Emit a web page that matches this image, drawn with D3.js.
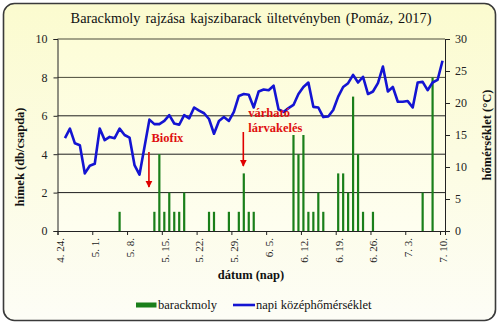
<!DOCTYPE html>
<html>
<head>
<meta charset="utf-8">
<script src="https://cdn.jsdelivr.net/npm/d3@7"></script>
<style>
  html, body { margin: 0; padding: 0; background: #ffffff; }
  svg { display: block; }
  text { font-family: "Liberation Serif", "Times New Roman", serif; }
</style>
</head>
<body>
<svg id="chart" width="500" height="325"></svg>
<script>
// Pheromone trap catches (males per trap) by date
const mothDates = [
  "2017-05-06", "2017-05-13", "2017-05-14", "2017-05-15", "2017-05-16", "2017-05-17",
  "2017-05-18", "2017-05-19", "2017-05-24", "2017-05-25", "2017-05-28", "2017-05-30",
  "2017-05-31", "2017-06-01", "2017-06-02", "2017-06-10", "2017-06-11", "2017-06-12",
  "2017-06-13", "2017-06-14", "2017-06-15", "2017-06-16", "2017-06-19", "2017-06-20",
  "2017-06-21", "2017-06-22", "2017-06-23", "2017-06-24", "2017-06-26", "2017-07-06",
  "2017-07-08"
];
const mothCounts = [
  1, 1, 4, 1, 2, 1,
  1, 2, 1, 1, 1, 1,
  3, 1, 1, 5, 4, 5,
  1, 1, 2, 1, 3, 3,
  2, 7, 4, 1, 1, 2,
  8
];

// Daily mean temperature (°C), one value per day from 25 April to 10 July
const tempStart = "2017-04-25";
const tempValues = [
  14.5, 16.0, 13.7, 13.4, 9.0, 10.2, 10.5, 16.0, 14.2, 14.7,
  14.5, 16.0, 15.0, 14.6, 10.3, 8.8, 13.1, 17.4, 16.7, 16.7,
  17.2, 18.1, 16.8, 16.6, 18.1, 17.6, 19.3, 18.8, 18.4, 17.5,
  15.2, 17.2, 17.8, 17.2, 18.6, 21.1, 21.4, 21.3, 19.3, 21.8,
  22.1, 22.0, 22.7, 19.0, 18.6, 19.2, 19.7, 21.4, 22.5, 23.2,
  19.4, 19.3, 17.8, 17.9, 18.9, 21.0, 22.5, 23.1, 24.4, 23.2,
  24.1, 21.4, 21.8, 23.1, 25.7, 21.8, 22.5, 20.2, 20.2, 20.3,
  19.3, 23.2, 23.3, 22.0, 23.2, 23.6, 26.6
];

// Axis ticks
const dateTicks = [
  "2017-04-24", "2017-05-01", "2017-05-08", "2017-05-15", "2017-05-22", "2017-05-29",
  "2017-06-05", "2017-06-12", "2017-06-19", "2017-06-26", "2017-07-03", "2017-07-10"
];
const dateTickLabels = [
  "4. 24.", "5. 1.", "5. 8.", "5. 15.", "5. 22.", "5. 29.",
  "6. 5.", "6. 12.", "6. 19.", "6. 26.", "7. 3.", "7. 10."
];
const countTicks = [0, 2, 4, 6, 8, 10];
const tempTicks = [0, 5, 10, 15, 20, 25, 30];

// Annotated events
const eventLabels = [["Biofix"], ["várható", "lárvakelés"]];
const eventDates = ["2017-05-12", "2017-05-31"];

const parse = d3.utcParse("%Y-%m-%d");
const DAY = 864e5;
const halfDay = d => new Date(d.getTime() + DAY / 2);

const svg = d3.select("#chart");
const defs = svg.append("defs");

const outerGrad = defs.append("linearGradient")
  .attr("id", "outerGrad").attr("x1", 0).attr("y1", 0).attr("x2", 0).attr("y2", 1);
outerGrad.append("stop").attr("offset", "0%").attr("stop-color", "#fbfbcf");
outerGrad.append("stop").attr("offset", "100%").attr("stop-color", "#fdfdf6");

const plotGrad = defs.append("linearGradient")
  .attr("id", "plotGrad").attr("x1", 0).attr("y1", 0).attr("x2", 0).attr("y2", 1);
plotGrad.append("stop").attr("offset", "0%").attr("stop-color", "#fdfdd8");
plotGrad.append("stop").attr("offset", "100%").attr("stop-color", "#fefef0");

defs.append("marker")
  .attr("id", "arrowRed")
  .attr("viewBox", "0 0 10 10")
  .attr("refX", 9).attr("refY", 5)
  .attr("markerWidth", 4.5).attr("markerHeight", 4.5)
  .attr("markerUnits", "strokeWidth")
  .attr("orient", "auto")
  .append("path")
  .attr("d", "M0,0 L10,5 L0,10 z")
  .attr("fill", "#e00000");

// Outer frame
svg.append("rect")
  .attr("x", 3.5).attr("y", 3.5)
  .attr("width", 492).attr("height", 317)
  .attr("rx", 11).attr("ry", 11)
  .attr("fill", "url(#outerGrad)")
  .attr("stroke", "#3a3a3a")
  .attr("stroke-width", 1.6);

const plot = { left: 57.5, right: 445, top: 39, bottom: 231 };

const x = d3.scaleUtc()
  .domain([parse("2017-04-24"), parse("2017-07-11")])
  .range([plot.left, plot.right]);
const yCount = d3.scaleLinear().domain([0, 10]).range([plot.bottom, plot.top]);
const yTemp = d3.scaleLinear().domain([0, 30]).range([plot.bottom, plot.top]);

// Plot area
svg.append("rect")
  .attr("x", plot.left).attr("y", plot.top)
  .attr("width", plot.right - plot.left).attr("height", plot.bottom - plot.top)
  .attr("fill", "url(#plotGrad)");

// Horizontal gridlines
svg.append("g")
  .selectAll("line")
  .data(countTicks.filter(d => d > 0))
  .join("line")
  .attr("x1", plot.left).attr("x2", plot.right)
  .attr("y1", d => yCount(d)).attr("y2", d => yCount(d))
  .attr("stroke", d => d >= 8 ? "#4a4a3a" : "#1e1e1e")
  .attr("stroke-width", 1);

// Title
svg.append("text")
  .attr("x", 251).attr("y", 23)
  .attr("text-anchor", "middle")
  .attr("font-size", 14.3)
  .attr("word-spacing", 1.5)
  .attr("fill", "#111")
  .text("Barackmoly rajzása kajszibarack ültetvényben (Pomáz, 2017)");

// Left axis
const leftAxis = d3.axisLeft(yCount).tickValues(countTicks).tickSize(4).tickPadding(6);
const gl = svg.append("g").attr("transform", `translate(${plot.left},0)`).call(leftAxis);
gl.select(".domain").attr("stroke", "#222");
gl.selectAll(".tick line").attr("stroke", "#222");
gl.selectAll(".tick text").attr("font-size", 12)
  .attr("font-family", "Liberation Serif, serif").attr("fill", "#222");

// Right axis
const rightAxis = d3.axisRight(yTemp).tickValues(tempTicks).tickSize(5).tickPadding(5);
const gr = svg.append("g").attr("transform", `translate(${plot.right},0)`).call(rightAxis);
gr.select(".domain").attr("stroke", "#222");
gr.selectAll(".tick line").attr("stroke", "#222");
gr.selectAll(".tick text").attr("font-size", 12)
  .attr("font-family", "Liberation Serif, serif").attr("fill", "#222");

// Bars: trap catches
const barW = 2.2;
svg.append("g")
  .selectAll("rect")
  .data(mothDates.map((d, i) => ({ date: parse(d), value: mothCounts[i] })))
  .join("rect")
  .attr("x", d => x(halfDay(d.date)) - barW / 2)
  .attr("y", d => yCount(d.value))
  .attr("width", barW)
  .attr("height", d => yCount(0) - yCount(d.value))
  .attr("fill", "#1a7f1a");

// Bottom axis
const tickDates = dateTicks.map(parse);
const bottomAxis = d3.axisBottom(x).tickValues(tickDates).tickSize(4).tickFormat("");
const gb = svg.append("g").attr("transform", `translate(0,${plot.bottom})`).call(bottomAxis);
gb.select(".domain").attr("stroke", "#222");
gb.selectAll(".tick line").attr("stroke", "#222");

svg.append("g")
  .selectAll("text")
  .data(tickDates)
  .join("text")
  .attr("transform", d => `translate(${x(d) + 3},238) rotate(-90)`)
  .attr("text-anchor", "end")
  .attr("dy", "0.35em")
  .attr("font-size", 11)
  .attr("fill", "#222")
  .text((d, i) => dateTickLabels[i]);

// Temperature line
const tempStartDate = parse(tempStart);
const tempSeries = tempValues.map((v, i) => ({
  date: new Date(tempStartDate.getTime() + i * DAY),
  value: v
}));
svg.append("path")
  .datum(tempSeries)
  .attr("fill", "none")
  .attr("stroke", "#1414d2")
  .attr("stroke-width", 2.6)
  .attr("stroke-linejoin", "round")
  .attr("d", d3.line().x(d => x(halfDay(d.date))).y(d => yTemp(d.value)));

// Event arrows and labels
const arrows = [
  { date: parse(eventDates[0]), y1: 152, y2: 187, tx: 2.5, ty: 142, lines: eventLabels[0] },
  { date: parse(eventDates[1]), y1: 132, y2: 166, tx: 5, ty: 117, lines: eventLabels[1] }
];
const ev = svg.append("g");
arrows.forEach(a => {
  const ax = x(a.date) + 2;
  ev.append("line")
    .attr("x1", ax).attr("x2", ax)
    .attr("y1", a.y1).attr("y2", a.y2)
    .attr("stroke", "#e00000")
    .attr("stroke-width", 1.6)
    .attr("marker-end", "url(#arrowRed)");
  const t = ev.append("text")
    .attr("x", ax + a.tx).attr("y", a.ty)
    .attr("font-size", 12.5)
    .attr("font-weight", "bold")
    .attr("fill", "#e01010");
  a.lines.forEach((s, i) => {
    t.append("tspan").attr("x", ax + a.tx).attr("dy", i === 0 ? 0 : 15).text(s);
  });
});

// Axis titles
svg.append("text")
  .attr("transform", "translate(24,157) rotate(-90)")
  .attr("text-anchor", "middle")
  .attr("font-size", 12.5).attr("font-weight", "bold").attr("fill", "#111")
  .text("hímek (db/csapda)");

svg.append("text")
  .attr("transform", "translate(491,135) rotate(-90)")
  .attr("text-anchor", "middle")
  .attr("font-size", 12.5).attr("font-weight", "bold").attr("fill", "#111")
  .text("hőmérséklet (°C)");

svg.append("text")
  .attr("x", 251).attr("y", 279)
  .attr("text-anchor", "middle")
  .attr("font-size", 12.5).attr("font-weight", "bold").attr("fill", "#111")
  .text("dátum (nap)");

// Legend
const lg = svg.append("g");
lg.append("rect").attr("x", 136).attr("y", 302.5).attr("width", 20.5).attr("height", 5).attr("fill", "#1a7f1a");
lg.append("text").attr("x", 158).attr("y", 309).attr("font-size", 12.5).attr("fill", "#111").text("barackmoly");
lg.append("line").attr("x1", 233).attr("x2", 255).attr("y1", 305).attr("y2", 305)
  .attr("stroke", "#1414d2").attr("stroke-width", 2.6);
lg.append("text").attr("x", 256).attr("y", 309).attr("font-size", 12.5).attr("fill", "#111").text("napi középhőmérséklet");
</script>
</body>
</html>
